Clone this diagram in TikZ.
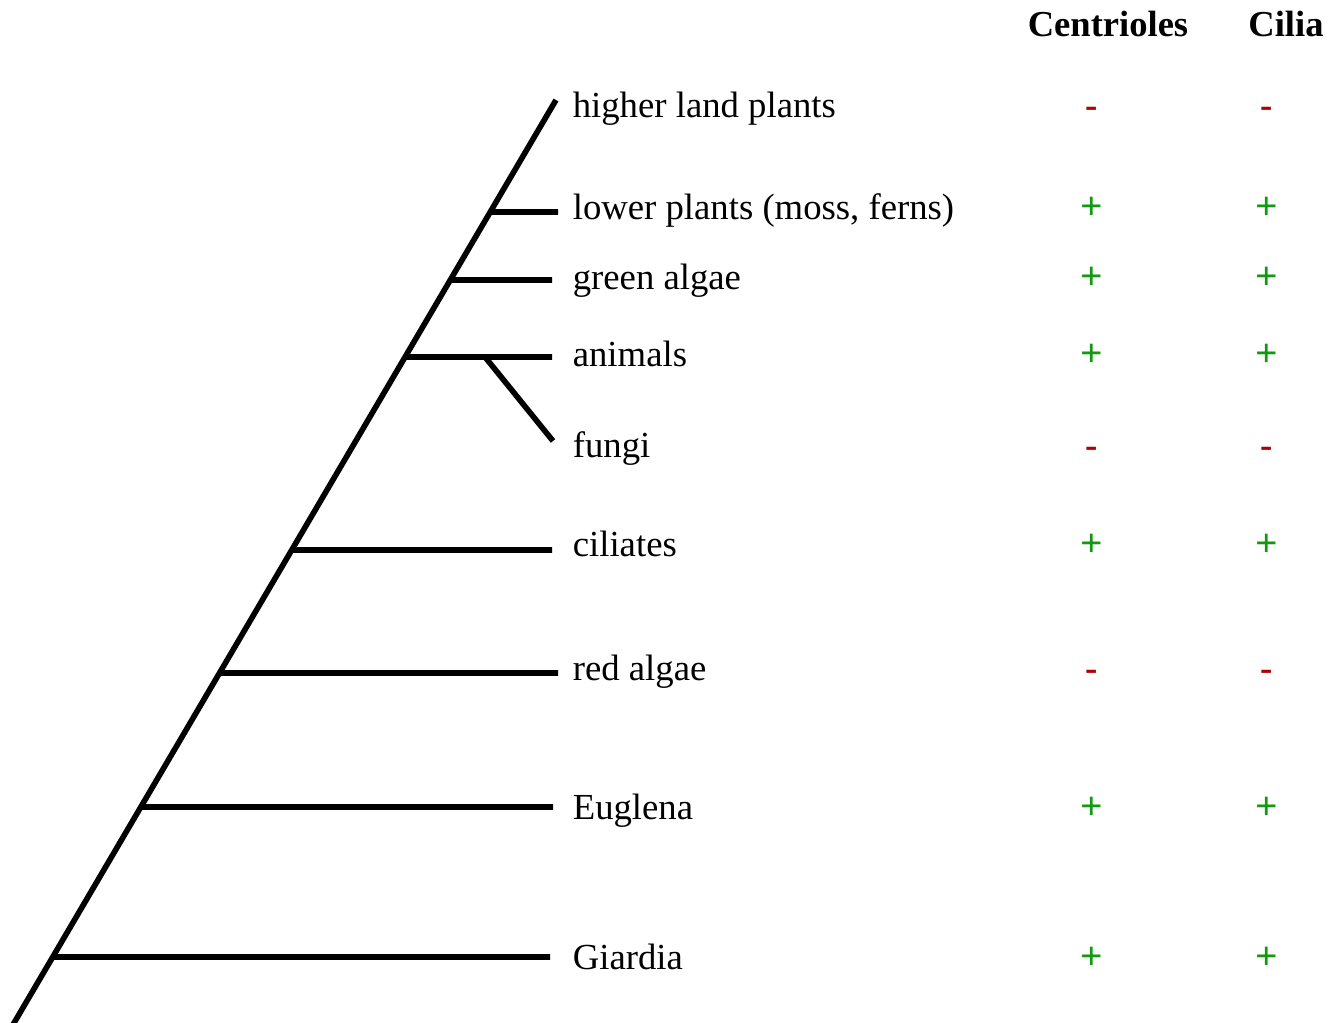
\documentclass[tikz,border=0pt]{standalone}
\usepackage{fontspec}
\setmainfont{Liberation Serif}
\usetikzlibrary{calc}
\definecolor{minusred}{HTML}{B20000}
\definecolor{plusgreen}{HTML}{119A11}

\begin{document}
\begin{tikzpicture}[x=0.02cm,y=-0.02cm,line width=3.2pt,
  taxon/.style={anchor=base west,inner sep=0pt,
    font=\fontsize{20.9}{24}\selectfont},
  head/.style={anchor=base,inner sep=0pt,
    font=\fontsize{20.8}{24}\selectfont\bfseries},
  yes/.style={anchor=base,inner sep=0pt,text=plusgreen,
    font=\fontsize{22.5}{24}\selectfont\bfseries,node contents=+},
  no/.style={anchor=base,inner sep=0pt,text=minusred,
    font=\fontsize{21}{24}\selectfont\bfseries,node contents=-}]
  \useasboundingbox (0,0) rectangle (1343,1023);

  % Column headings
  \node[head] (hcen) at (1108,37) {Centrioles};
  \node[head] (hcil) at (1286,37) {Cilia};

  % Trunk of the tree
  \coordinate (root) at (12,1026.4);
  \coordinate (tip) at (556,100);
  \draw (root) -- (tip);

  % Side branches
  \foreach \y/\e/\n in {212/558/lp,280/552/ga,357/552/an,550/552/ci,
                        673/558/ra,807/553/eu,957/550/gi}{
    \coordinate (k\n) at ($(root)!{(1026.4-\y)/926.4}!(tip)$);
    \coordinate (e\n) at (\e,\y);
    \draw (k\n) -- (e\n);
  }
  \coordinate (kfu) at (485,357);
  \coordinate (efu) at (553,441);
  \draw (kfu) -- (efu);

  % Taxa with centrioles and cilia
  \foreach \b/\n/\t/\c/\s in {118/hlp/higher land plants/no/no,
      220/lp/{lower plants (moss, ferns)}/yes/yes,
      290/ga/green algae/yes/yes, 367/an/animals/yes/yes,
      458/fu/fungi/no/no, 557/ci/ciliates/yes/yes,
      681/ra/red algae/no/no, 819/eu/Euglena/yes/yes,
      969/gi/Giardia/yes/yes}{
    \node[taxon] (t\n) at (570,\b) {\t};
    \node (c\n) at (1092,\b) [\c];
    \node (s\n) at (1267,\b) [\s];
  }
\end{tikzpicture}
\end{document}
